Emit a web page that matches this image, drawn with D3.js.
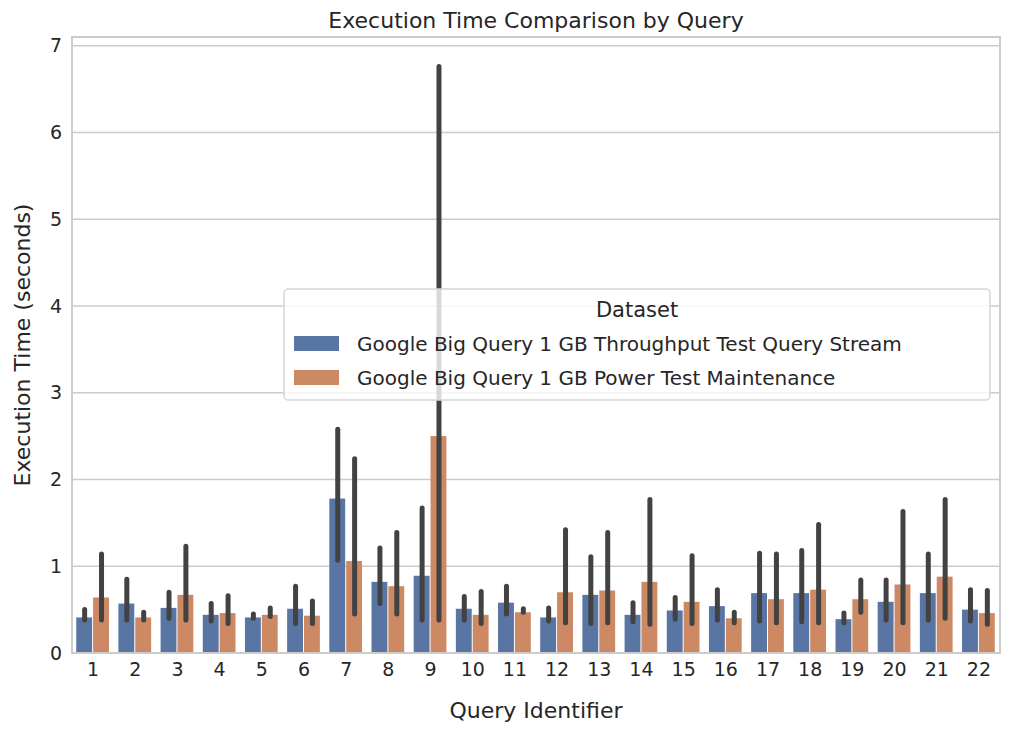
<!DOCTYPE html>
<html><head><meta charset="utf-8">
<script src="https://cdn.jsdelivr.net/npm/d3@7"></script>
<style>body{margin:0;background:#fff}text{font-family:"DejaVu Sans",sans-serif;fill:#262626}</style>
</head><body><svg id="c" width="1011" height="733"></svg>
<script>
const queries = d3.range(1,23).map(String);
const seriesNames = ["Google Big Query 1 GB Throughput Test Query Stream","Google Big Query 1 GB Power Test Maintenance"];
const blueMean = [0.41,0.57,0.52,0.44,0.41,0.51,1.78,0.82,0.89,0.51,0.58,0.41,0.67,0.44,0.49,0.54,0.69,0.69,0.39,0.59,0.69,0.50];
const blueLo   = [0.38,0.38,0.40,0.37,0.40,0.34,1.07,0.57,0.38,0.38,0.45,0.37,0.34,0.36,0.39,0.38,0.37,0.36,0.35,0.38,0.38,0.37];
const blueHi   = [0.50,0.85,0.70,0.57,0.45,0.77,2.58,1.21,1.67,0.65,0.77,0.52,1.11,0.58,0.64,0.73,1.15,1.18,0.46,0.84,1.14,0.73];
const orMean   = [0.64,0.41,0.67,0.46,0.44,0.43,1.06,0.77,2.50,0.44,0.47,0.70,0.72,0.82,0.59,0.40,0.62,0.73,0.62,0.79,0.88,0.46];
const orLo     = [0.38,0.38,0.38,0.34,0.42,0.34,0.45,0.45,0.38,0.34,0.47,0.35,0.35,0.33,0.34,0.35,0.35,0.35,0.47,0.35,0.40,0.33];
const orHi     = [1.14,0.47,1.23,0.66,0.52,0.60,2.24,1.39,6.76,0.71,0.51,1.42,1.39,1.77,1.12,0.47,1.14,1.48,0.84,1.63,1.77,0.72];
const yTicks = [0,1,2,3,4,5,6,7];
const colors = ["#5975a4","#cc8963"];

const svg = d3.select("#c");
const L=72,R=1000,T=37,B=653;
const x = d3.scaleBand().domain(queries).range([L,R]).paddingInner(0.2).paddingOuter(0.1);
const xs = d3.scaleBand().domain([0,1]).range([0,x.bandwidth()]);
const y = d3.scaleLinear().domain([0,7.1]).range([B,T]);

const g = svg.append("g");
g.selectAll(".grid").data(yTicks).join("line").attr("x1",L).attr("x2",R)
 .attr("y1",d=>y(d)).attr("y2",d=>y(d)).attr("stroke","#cccccc").attr("stroke-width",1.6);

const series=[{m:blueMean,lo:blueLo,hi:blueHi},{m:orMean,lo:orLo,hi:orHi}];
series.forEach((s,si)=>{
  g.selectAll(".b"+si).data(queries).join("rect")
   .attr("x",(q)=>x(q)+xs(si)).attr("width",xs.bandwidth()-1)
   .attr("y",(q,i)=>y(s.m[i])).attr("height",(q,i)=>y(0)-y(s.m[i]))
   .attr("fill",colors[si]);
});
series.forEach((s,si)=>{
  g.selectAll(".e"+si).data(queries).join("line")
   .attr("x1",q=>x(q)+xs(si)+xs.bandwidth()/2).attr("x2",q=>x(q)+xs(si)+xs.bandwidth()/2)
   .attr("y1",(q,i)=>y(s.lo[i])).attr("y2",(q,i)=>y(s.hi[i]))
   .attr("stroke","#424242").attr("stroke-width",5).attr("stroke-linecap","round");
});

// frame
svg.append("rect").attr("x",L).attr("y",T).attr("width",R-L).attr("height",B-T)
 .attr("fill","none").attr("stroke","#cccccc").attr("stroke-width",2);

const xa = svg.append("g").attr("transform",`translate(0,${B})`).call(d3.axisBottom(x).tickSize(0).tickPadding(10));
xa.select(".domain").remove();
xa.selectAll("text").style("font-size","19px").attr("fill","#262626");
const ya = svg.append("g").attr("transform",`translate(${L},0)`).call(d3.axisLeft(y).tickValues(yTicks).tickSize(0).tickPadding(10));
ya.select(".domain").remove();
ya.selectAll("text").style("font-size","19px").attr("fill","#262626");

svg.append("text").attr("x",(L+R)/2).attr("y",28).attr("text-anchor","middle").style("font-size","22px").text("Execution Time Comparison by Query");
svg.append("text").attr("x",(L+R)/2).attr("y",718).attr("text-anchor","middle").style("font-size","22px").text("Query Identifier");
svg.append("text").attr("transform",`translate(30,${(T+B)/2}) rotate(-90)`).attr("text-anchor","middle").style("font-size","22px").text("Execution Time (seconds)");

// legend
const lg = svg.append("g");
lg.append("rect").attr("x",284).attr("y",289).attr("width",706).attr("height",111).attr("rx",4)
 .attr("fill","#fff").attr("fill-opacity",0.8).attr("stroke","#d6d6d6").attr("stroke-width",1.5);
lg.append("text").attr("x",637).attr("y",317).attr("text-anchor","middle").style("font-size","21px").text("Dataset");
seriesNames.forEach((n,i)=>{
  lg.append("rect").attr("x",294).attr("y",336+i*34).attr("width",45).attr("height",15).attr("fill",colors[i]);
  lg.append("text").attr("x",357).attr("y",351+i*34).style("font-size","20px").text(n);
});
</script></body></html>
